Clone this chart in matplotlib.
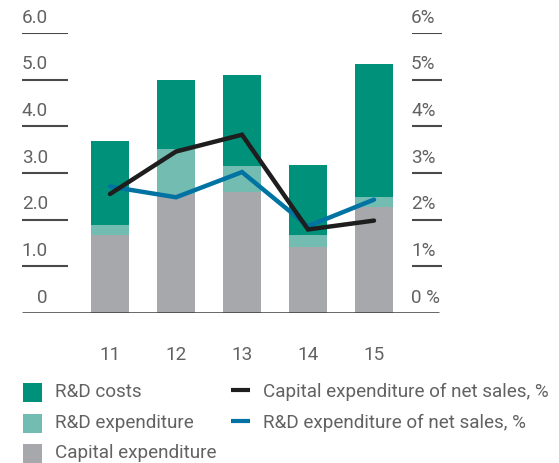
import matplotlib
matplotlib.use("Agg")
import matplotlib.pyplot as plt
from matplotlib.patches import Rectangle
from matplotlib.lines import Line2D

plt.rcParams['font.family'] = ['Roboto', 'DejaVu Sans']

years = ["11", "12", "13", "14", "15"]
capex = [1.68, 2.54, 2.59, 1.41, 2.28]
rd_expenditure = [0.21, 0.98, 0.57, 0.27, 0.21]
rd_costs = [1.80, 1.48, 1.93, 1.50, 2.85]
capex_pct = [2.55, 3.46, 3.82, 1.79, 1.98]
rd_pct = [2.71, 2.48, 3.02, 1.86, 2.43]
left_ticks = [0, 1, 2, 3, 4, 5, 6]
left_labels = ["0", "1.0", "2.0", "3.0", "4.0", "5.0", "6.0"]
right_labels = ["0 %", "1%", "2%", "3%", "4%", "5%", "6%"]

C_DARK = "#00917B"
C_LIGHT = "#72BCB2"
C_GRAY = "#A7A8AC"
C_BLACK = "#1E1E1E"
C_BLUE = "#0073A3"
TXT = "#626262"
FS = 13.6
FW = "normal"

W, H = 559, 463
fig = plt.figure(figsize=(W / 100, H / 100), dpi=100)
ax = fig.add_axes([22 / W, 150 / H, 420 / W, 280 / H])
x0, dx = 110, 66
def px2x(p):
    return (p - x0) / dx
ax.set_xlim(px2x(22), px2x(442))
ax.set_ylim(0, 6)
ax.axis("off")

xs = list(range(len(years)))
bw = 38 / dx
ax.bar(xs, capex, width=bw, color=C_GRAY, zorder=2)
bottom2 = [a for a in capex]
ax.bar(xs, rd_expenditure, width=bw, bottom=bottom2, color=C_LIGHT, zorder=2)
bottom3 = [a + b for a, b in zip(capex, rd_expenditure)]
ax.bar(xs, rd_costs, width=bw, bottom=bottom3, color=C_DARK, zorder=2)

# short gridlines & labels
for t, ll, rl in zip(left_ticks, left_labels, right_labels):
    if t > 0:
        ax.plot([px2x(22), px2x(68)], [t, t], color="#4a4a4a", lw=1.5, solid_capstyle="butt", zorder=1)
        ax.plot([px2x(412), px2x(442)], [t, t], color="#4a4a4a", lw=1.5, solid_capstyle="butt", zorder=1)
    ax.annotate(ll, (px2x(48), t), xytext=(0, 4.5), textcoords="offset points",
                ha="right", va="bottom", fontsize=FS, color=TXT, fontweight=FW)
    ax.annotate(rl, (px2x(411), t), xytext=(0, 4.5), textcoords="offset points",
                ha="left", va="bottom", fontsize=FS, color=TXT, fontweight=FW)
ax.plot([px2x(22), px2x(439)], [0, 0], color="#3a3a3a", lw=1.8, solid_capstyle="butt", zorder=3)

for x, y in zip(xs, years):
    ax.annotate(y, (x, 0), xytext=(0, -24), textcoords="offset points",
                ha="center", va="top", fontsize=FS, color=TXT, fontweight=FW)

ax2 = ax.twinx()
ax2.set_ylim(0, 6)
ax2.set_xlim(ax.get_xlim())
ax2.axis("off")
ax2.plot(xs, rd_pct, color=C_BLUE, lw=3.2, solid_capstyle="round", solid_joinstyle="miter", zorder=4)
ax2.plot(xs, capex_pct, color=C_BLACK, lw=3.2, solid_capstyle="round", solid_joinstyle="miter", zorder=5)

# legend
def fy(p):
    return 1 - p / H
legend_items = [("R&D costs", C_DARK, 392), ("R&D expenditure", C_LIGHT, 423), ("Capital expenditure", C_GRAY, 453)]
for lab, col, yc in legend_items:
    fig.add_artist(Rectangle((23 / W, fy(yc + 9.5)), 19 / W, 19 / H, transform=fig.transFigure,
                             facecolor=col, edgecolor="none"))
    fig.text(55 / W, fy(yc), lab, ha="left", va="center", fontsize=FS, color=TXT, fontweight=FW)
line_items = [("Capital expenditure of net sales, %", C_BLACK, 392), ("R&D expenditure of net sales, %", C_BLUE, 423)]
for lab, col, yc in line_items:
    fig.add_artist(Line2D([231 / W, 250 / W], [fy(yc - 2), fy(yc - 2)], transform=fig.transFigure,
                          color=col, lw=3, solid_capstyle="butt"))
    fig.text(263 / W, fy(yc), lab, ha="left", va="center", fontsize=FS, color=TXT, fontweight=FW)

fig.savefig("out.png", dpi=100)
